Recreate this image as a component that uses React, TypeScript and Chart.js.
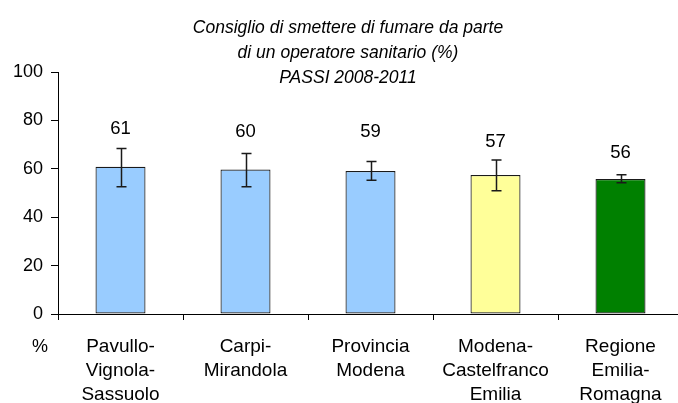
import React, { useEffect, useRef } from "react";
import { Chart, registerables } from "chart.js";

Chart.register(...registerables);

const categories: string[][] = [
  ["Pavullo-", "Vignola-", "Sassuolo"],
  ["Carpi-", "Mirandola"],
  ["Provincia", "Modena"],
  ["Modena-", "Castelfranco", "Emilia"],
  ["Regione", "Emilia-", "Romagna"],
];
const values: number[] = [60.8, 59.7, 59.1, 57.4, 55.8];
const valueLabels: string[] = ["61", "60", "59", "57", "56"];
const ciLow: number[] = [52.6, 52.6, 55.3, 50.9, 54.2];
const ciHigh: number[] = [68.4, 66.3, 63.0, 63.6, 57.5];
const barColors: string[] = ["#99CCFF", "#99CCFF", "#99CCFF", "#FFFF99", "#008000"];
const titleLines: string[] = [
  "Consiglio di smettere di fumare da parte",
  "di un operatore sanitario (%)",
  "PASSI 2008-2011",
];
const yTicks: number[] = [0, 20, 40, 60, 80, 100];
const yAxisTitle = "%";

const FONT = "'Liberation Sans', Arial, Helvetica, sans-serif";
// vertical offsets (px) of the value labels above each bar top
const labelLift: number[] = [38, 38, 39, 33, 26];

const overlayPlugin = {
  id: "overlay",
  afterDatasetsDraw(chart: any) {
    const ctx = chart.ctx;
    const meta = chart.getDatasetMeta(0);
    const y = chart.scales.y;
    ctx.save();
    // error bars
    ctx.strokeStyle = "#1a1a1a";
    ctx.lineWidth = 1.5;
    meta.data.forEach((bar: any, i: number) => {
      const x = Math.round(bar.x) + 0.5;
      const yl = y.getPixelForValue(ciLow[i]);
      const yh = y.getPixelForValue(ciHigh[i]);
      ctx.beginPath();
      ctx.moveTo(x, yl);
      ctx.lineTo(x, yh);
      ctx.moveTo(x - 5, yl);
      ctx.lineTo(x + 5, yl);
      ctx.moveTo(x - 5, yh);
      ctx.lineTo(x + 5, yh);
      ctx.stroke();
    });
    // value labels
    ctx.fillStyle = "#000";
    ctx.font = `18.5px ${FONT}`;
    ctx.textAlign = "center";
    ctx.textBaseline = "middle";
    meta.data.forEach((bar: any, i: number) => {
      ctx.fillText(valueLabels[i], bar.x, bar.y - labelLift[i]);
    });
    // title
    ctx.font = `italic 17.5px ${FONT}`;
    titleLines.forEach((t, i) => {
      ctx.fillText(t, 348, 28 + i * 25);
    });
    // y axis title "%"
    ctx.font = `18px ${FONT}`;
    ctx.fillText(yAxisTitle, 40, 347);
    ctx.restore();
  },
};

export default function App() {
  const ref = useRef<HTMLCanvasElement>(null);
  useEffect(() => {
    if (!ref.current) return;
    const chart = new Chart(ref.current, {
      type: "bar",
      data: {
        labels: categories as any,
        datasets: [
          {
            data: values,
            backgroundColor: barColors,
            borderColor: "#1a1a1a",
            borderWidth: 1.2,
            borderSkipped: false,
            categoryPercentage: 1,
            barPercentage: 0.4,
          },
        ],
      },
      options: {
        responsive: false,
        animation: false,
        devicePixelRatio: 1,
        layout: { padding: { left: 0, right: 7, top: 72, bottom: 0 } },
        plugins: { legend: { display: false }, tooltip: { enabled: false }, title: { display: false } },
        scales: {
          x: {
            afterFit: (s: any) => {
              s.height = 89;
            },
            grid: {
              display: true,
              drawOnChartArea: false,
              drawTicks: true,
              tickLength: 6,
              color: "#000",
              offset: true,
            },
            border: { display: true, color: "#000", width: 1 },
            ticks: {
              color: "#000",
              font: { family: FONT, size: 19, lineHeight: 1.263 },
              padding: 15,
              maxRotation: 0,
              autoSkip: false,
            },
          },
          y: {
            min: 0,
            max: 100,
            afterFit: (s: any) => {
              s.width = 58;
            },
            afterBuildTicks: (s: any) => {
              s.ticks = yTicks.map((v) => ({ value: v }));
            },
            grid: {
              display: true,
              drawOnChartArea: false,
              drawTicks: true,
              tickLength: 7,
              color: "#000",
            },
            border: { display: true, color: "#000", width: 1 },
            ticks: {
              color: "#000",
              font: { family: FONT, size: 18 },
              padding: 8,
            },
          },
        },
      },
      plugins: [overlayPlugin],
    });
    return () => chart.destroy();
  }, []);
  return (
    <div
      style={{
        position: "fixed",
        left: 0,
        top: 0,
        width: 678,
        height: 403,
        overflow: "hidden",
        background: "#fff",
      }}
    >
      <canvas ref={ref} width={690} height={403} style={{ display: "block" }} />
    </div>
  );
}
